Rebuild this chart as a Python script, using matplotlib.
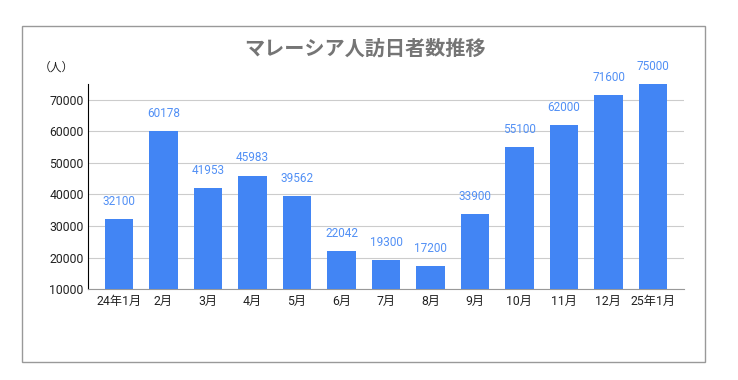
import matplotlib
matplotlib.use("Agg")
from matplotlib import pyplot as plt
from matplotlib.patches import Rectangle

# data
months = ["24年1月", "2月", "3月", "4月", "5月", "6月", "7月", "8月", "9月",
          "10月", "11月", "12月", "25年1月"]
visitors = [32100, 60178, 41953, 45983, 39562, 22042, 19300, 17200, 33900,
            55100, 62000, 71600, 75000]
y_ticks = [10000, 20000, 30000, 40000, 50000, 60000, 70000]

BAR = "#4285f4"
LABEL = "#5290f5"
GRID = "#cccccc"

plt.rcParams['font.family'] = ['Roboto', 'Noto Sans CJK JP', 'DejaVu Sans']

fig = plt.figure(figsize=(7.38, 3.8), dpi=100)
ax = fig.add_axes([0.119, 0.239, 0.808, 0.54])

x = list(range(len(months)))
ax.bar(x, [v - 10000 for v in visitors], bottom=10000, width=0.65, color=BAR, zorder=3)
for xi, v in zip(x, visitors):
    ax.annotate(str(v), xy=(xi, v), xytext=(0, 8), textcoords="offset points",
                ha="center", va="bottom", fontsize=8.5, color=LABEL)

ax.set_xlim(-0.7, len(months) - 0.3)
ax.set_ylim(10000, 75000)
ax.set_yticks(y_ticks)
ax.set_xticks(x)
ax.set_xticklabels(months)
ax.tick_params(axis='both', length=0, labelsize=8.8, colors="#222222")
ax.tick_params(axis='x', pad=4)
ax.tick_params(axis='y', pad=3)
ax.grid(axis='y', color=GRID, linewidth=0.8, zorder=0)
for s in ["top", "right"]:
    ax.spines[s].set_visible(False)
ax.spines["left"].set_color("#000000")
ax.spines["bottom"].set_color("#999999")

fig.text(0.494, 0.870, "マレーシア人訪日者数推移", ha="center", va="center",
         fontsize=14.5, fontweight="bold", color="#757575")
fig.text(0.052, 0.823, "（人）", ha="left", va="center", fontsize=8.5, color="#222222")

# outer frame
fig.patches.append(Rectangle((22 / 738, 1 - 362 / 380), (705 - 22) / 738, (362 - 26) / 380,
                             transform=fig.transFigure, fill=False, edgecolor="#999999",
                             linewidth=1))

plt.savefig("out.png", dpi=100)
